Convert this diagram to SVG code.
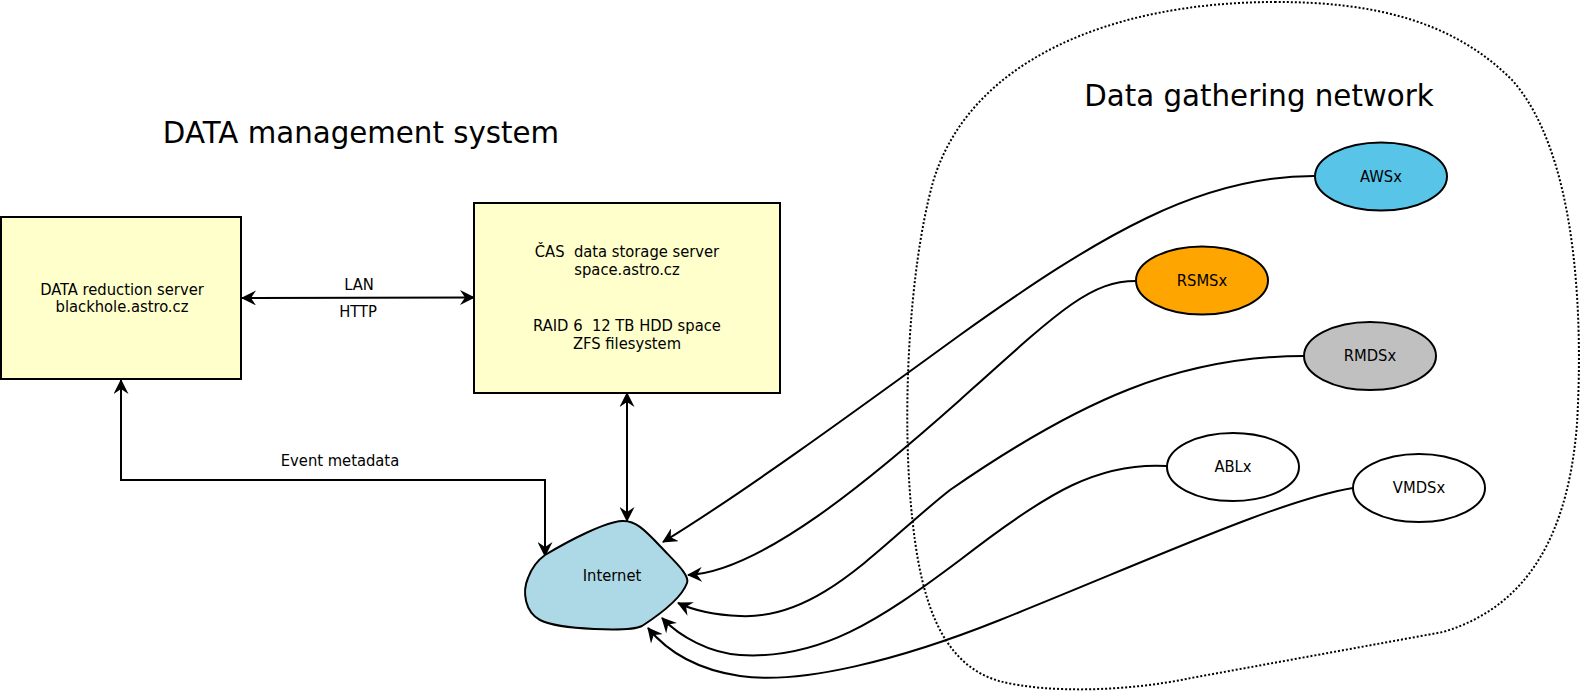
<svg xmlns="http://www.w3.org/2000/svg" width="1582" height="691" viewBox="0 0 1582 691">
<style>
.box{fill:#ffffcc;stroke:#000;stroke-width:2}
.t{font-family:"DejaVu Sans Condensed","DejaVu Sans",sans-serif;font-size:16.4px;fill:#000;text-anchor:middle;white-space:pre}
.title{font-family:"DejaVu Sans",sans-serif;font-size:29.3px;fill:#000;text-anchor:middle}
.ell{stroke:#000;stroke-width:2}
.c{fill:none;stroke:#000;stroke-width:2}
.arr{marker-end:url(#ah)}
.arr2{marker-start:url(#ahs);marker-end:url(#ah)}
</style>
<defs>
<marker id="ah" viewBox="0 0 15 15" refX="14" refY="7.5" markerWidth="15" markerHeight="15" markerUnits="userSpaceOnUse" orient="auto">
<path d="M0,0 L15,7.5 L0,15 L5,7.5 Z" fill="#000"/>
</marker>
<marker id="ahs" viewBox="0 0 15 15" refX="1" refY="7.5" markerWidth="15" markerHeight="15" markerUnits="userSpaceOnUse" orient="auto">
<path d="M15,0 L0,7.5 L15,15 L10,7.5 Z" fill="#000"/>
</marker>
</defs>
<rect width="1582" height="691" fill="#fff"/>
<g id="network-boundary">
<path d="M1276,2 C1110,2 969,61 933,182 C908,272 901,424 913,525 C923,615 948,666 999,681 C1049,694 1130,691 1191,678 L1443,632 C1534,605 1569,525 1577,424 C1584,303 1574,151 1513,81 C1453,20 1372,2 1276,2 Z" fill="none" stroke="#000" stroke-width="2" stroke-dasharray="2,2"/>
</g>
<g id="title-mgmt"><text class="title" x="361" y="143">DATA management system</text></g>
<g id="title-net"><text class="title" x="1259" y="106">Data gathering network</text></g>
<g id="connectors">
<path class="c arr2" d="M242,298 L474,297.5"/>
<path class="c arr2" d="M627,393 L627,521"/>
<path class="c arr2" d="M121,380 L121,480 L545,480 L545,556"/>
<path class="c arr" d="M1314,176 C1200,176 1100,235 960,335 C850,415 740,495 663,542"/>
<path class="c arr" d="M1136,281 C1090,281 1060,310 960,400 C870,480 760,572 688,575"/>
<path class="c arr" d="M1304,356 C1180,356 1080,400 950,490 C880,545 820,620 740,616 C715,615 695,611 678,603"/>
<path class="c arr" d="M1167,466 C1100,462 1050,490 960,560 C880,620 820,660 740,655 C710,653 680,637 662,618"/>
<path class="c arr" d="M1353,488 C1280,500 1150,560 1000,620 C900,660 800,685 740,676 C700,670 670,655 648,628"/>
<text class="t" x="359" y="290">LAN</text>
<text class="t" x="358" y="317">HTTP</text>
<text class="t" x="340" y="466">Event metadata</text>
</g>
<g id="reduction-server">
<rect class="box" x="1" y="217" width="240" height="162"/>
<text class="t" x="122" y="295">DATA reduction server</text>
<text class="t" x="122" y="312">blackhole.astro.cz</text>
</g>
<g id="storage-server">
<rect class="box" x="474" y="203" width="306" height="190"/>
<text class="t" x="627" y="257">ČAS  data storage server</text>
<text class="t" x="627" y="275">space.astro.cz</text>
<text class="t" x="627" y="331">RAID 6  12 TB HDD space</text>
<text class="t" x="627" y="349">ZFS filesystem</text>
</g>
<g id="internet">
<path d="M545,555 C570,540 605,522 622,521 C635,520 645,530 660,546 C675,562 690,575 687,583 C682,597 662,613 642,626 C630,632 560,630 540,620 C525,612 522,592 528,578 C532,567 538,560 545,555 Z" fill="#add8e6" stroke="#000" stroke-width="2"/>
<text class="t" x="612" y="581">Internet</text>
</g>
<g id="AWSx"><ellipse class="ell" cx="1381" cy="176.5" rx="66" ry="34" fill="#57c4e8"/><text class="t" x="1381" y="182">AWSx</text></g>
<g id="RSMSx"><ellipse class="ell" cx="1202" cy="280.5" rx="66" ry="34" fill="#ffa500"/><text class="t" x="1202" y="286">RSMSx</text></g>
<g id="RMDSx"><ellipse class="ell" cx="1370" cy="356" rx="66" ry="34" fill="#c0c0c0"/><text class="t" x="1370" y="361">RMDSx</text></g>
<g id="ABLx"><ellipse class="ell" cx="1233" cy="467" rx="66" ry="34" fill="#fff"/><text class="t" x="1233" y="472">ABLx</text></g>
<g id="VMDSx"><ellipse class="ell" cx="1419" cy="488" rx="66" ry="34" fill="#fff"/><text class="t" x="1419" y="493">VMDSx</text></g>
</svg>
